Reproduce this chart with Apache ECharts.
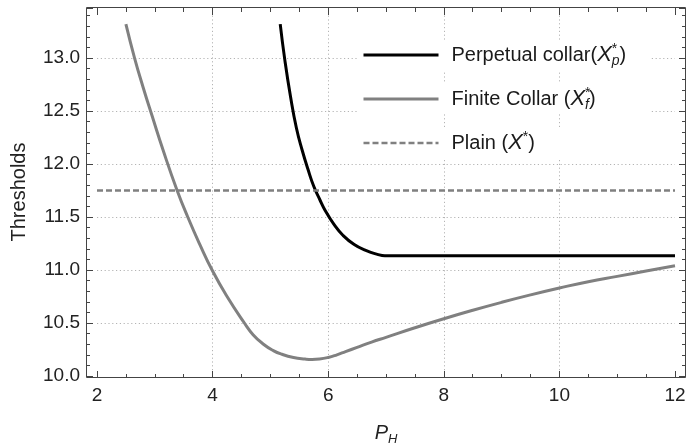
<!DOCTYPE html>
<html><head><meta charset="utf-8">
<script src="https://cdn.jsdelivr.net/npm/echarts@6/dist/echarts.min.js"></script>
<style>html,body{margin:0;padding:0;background:#fff}#c{width:689px;height:443px}</style>
</head><body><div id="c"></div>
<script>
// ---- data ----
const finiteX = [2.5, 2.65, 2.8, 2.95, 3.15, 3.38, 3.57, 3.78, 4.0, 4.25, 4.55, 4.7, 4.88, 5.05, 5.2, 5.4, 5.6, 5.72, 5.85, 6.0, 6.15, 6.3, 6.5, 6.75, 7.0, 7.5, 8.0, 8.5, 9.0, 9.5, 10.0, 10.5, 11.0, 11.5, 12.0];
const finiteY = [13.32, 13.0, 12.72, 12.46, 12.12, 11.76, 11.5, 11.24, 10.99, 10.75, 10.5, 10.39, 10.30, 10.24, 10.205, 10.175, 10.16, 10.156, 10.16, 10.175, 10.20, 10.23, 10.27, 10.32, 10.365, 10.455, 10.54, 10.62, 10.695, 10.765, 10.83, 10.89, 10.94, 10.99, 11.04];
const perpX = [5.17, 5.25, 5.35, 5.45, 5.55, 5.65, 5.75, 5.85, 5.95, 6.1, 6.25, 6.45, 6.65, 6.85, 6.98, 7.5, 8.0, 9.0, 10.0, 11.0, 12.0];
const perpY = [13.32, 12.98, 12.63, 12.34, 12.13, 11.95, 11.79, 11.67, 11.56, 11.43, 11.33, 11.24, 11.185, 11.148, 11.135, 11.135, 11.135, 11.135, 11.135, 11.135, 11.135];
const plainX = [2, 12];
const plainY = [11.75, 11.75];
const xTickValues = [2, 4, 6, 8, 10, 12];
const yTickValues = [10.0, 10.5, 11.0, 11.5, 12.0, 12.5, 13.0];
const seriesNames = ['Perpetual collar', 'Finite Collar', 'Plain'];
const legendTexts = [
  'Perpetual collar({x|X}{sup|*}{sub|p})',
  'Finite Collar ({x|X}{sup|*}{sub|f})',
  'Plain ({x|X}{sup2|*})'
];
const xName = '{i|P}{s|H}';
const yName = 'Thresholds';

function pairs(xs, ys) { return xs.map((x, i) => [x, ys[i]]); }

const FONT = '"Liberation Sans", Arial, Helvetica, sans-serif';
const TICK = '#444';
const LABEL = '#222';
const GRIDLINE = { color: '#b4b4b4', type: [1.2, 2.6], width: 1 };

function xAxisCfg(position, withLabels, offset) {
  return {
    type: 'value', position: position, offset: offset,
    min: xTickValues[0], max: xTickValues[xTickValues.length - 1], interval: xTickValues[1] - xTickValues[0],
    axisLine: { show: false },
    axisTick: { show: true, inside: true, length: 7, lineStyle: { color: TICK, width: 1 } },
    minorTick: { show: true, splitNumber: 4, length: 4, lineStyle: { color: TICK, width: 1 } },
    axisLabel: { show: withLabels, fontSize: 19, color: LABEL, fontFamily: FONT, margin: 8,
                 formatter: v => String(v) },
    splitLine: { show: withLabels, showMinLine: false, showMaxLine: false, lineStyle: GRIDLINE },
    name: withLabels ? xName : '', nameLocation: 'middle', nameGap: 42,
    nameTextStyle: { color: LABEL, fontFamily: FONT, rich: {
      i: { fontStyle: 'italic', fontSize: 20, lineHeight: 26, fontFamily: FONT, color: LABEL },
      s: { fontStyle: 'italic', fontSize: 13, lineHeight: 14, verticalAlign: 'bottom', fontFamily: FONT, color: LABEL }
    } }
  };
}
function yAxisCfg(position, withLabels, offset) {
  return {
    type: 'value', position: position, offset: offset,
    min: yTickValues[0], max: 13.472, interval: yTickValues[1] - yTickValues[0],
    axisLine: { show: false },
    axisTick: { show: true, inside: true, length: 7, lineStyle: { color: TICK, width: 1 } },
    minorTick: { show: true, splitNumber: 5, length: 4, lineStyle: { color: TICK, width: 1 } },
    axisLabel: { show: withLabels, fontSize: 19, color: LABEL, fontFamily: FONT, margin: 6,
                 showMaxLabel: false, formatter: v => v.toFixed(1) },
    splitLine: { show: withLabels, showMinLine: false, showMaxLine: false, lineStyle: GRIDLINE },
    name: withLabels ? yName : '', nameLocation: 'middle', nameGap: 57,
    nameTextStyle: { color: LABEL, fontFamily: FONT, fontSize: 20 }
  };
}

const legendHidden = { color: 'rgba(0,0,0,0)', borderWidth: 0, opacity: 0 };

const chart = echarts.init(document.getElementById('c'), null, { renderer: 'canvas' });
chart.setOption({
  animation: false,
  backgroundColor: '#fff',
  grid: { left: 97, right: 14, top: 8, bottom: 67, outerBoundsMode: 'none', containLabel: false },
  xAxis: [xAxisCfg('bottom', true, 2), xAxisCfg('top', false, 0)],
  yAxis: [yAxisCfg('left', true, 11), yAxisCfg('right', false, 11)],
  legend: {
    orient: 'vertical', left: 362, top: 42, padding: 0,
    itemWidth: 75, itemHeight: 26, itemGap: 18,
    itemStyle: legendHidden,
    data: [
      { name: seriesNames[0], itemStyle: legendHidden, lineStyle: { width: 3, color: '#000' } },
      { name: seriesNames[1], itemStyle: legendHidden, lineStyle: { width: 3, color: '#808080' } },
      { name: seriesNames[2], itemStyle: legendHidden, lineStyle: { width: 2.5, color: '#808080', type: [6, 3] } }
    ],
    formatter: name => legendTexts[seriesNames.indexOf(name)],
    textStyle: {
      fontSize: 20, fontFamily: FONT, color: '#1a1a1a', lineHeight: 26, padding: [0, 0, 0, 8],
      rich: {
        x: { fontStyle: 'italic', fontSize: 22, lineHeight: 26, fontFamily: FONT, color: '#1a1a1a' },
        sup: { fontSize: 14, lineHeight: 14, verticalAlign: 'top', width: 0, fontFamily: FONT, color: '#1a1a1a' },
        sup2: { fontSize: 14, lineHeight: 14, verticalAlign: 'top', fontFamily: FONT, color: '#1a1a1a' },
        sub: { fontStyle: 'italic', fontSize: 14, lineHeight: 14, verticalAlign: 'bottom', fontFamily: FONT, color: '#1a1a1a' }
      }
    }
  },
  graphic: [
    { type: 'rect', z: 1, silent: true, shape: { x: 358, y: 40, width: 292, height: 30 }, style: { fill: '#fff' } },
    { type: 'rect', z: 1, silent: true, shape: { x: 358, y: 84, width: 292, height: 30 }, style: { fill: '#fff' } },
    { type: 'rect', z: 1, silent: true, shape: { x: 358, y: 128, width: 292, height: 30 }, style: { fill: '#fff' } },
    { type: 'rect', z: 100, silent: true, shape: { x: 86.5, y: 7.5, width: 599, height: 370 }, style: { fill: 'none', stroke: TICK, lineWidth: 1 } }
  ],
  series: [
    { name: seriesNames[0], type: 'line', data: pairs(perpX, perpY), symbol: 'none', smooth: 0.5,
      lineStyle: { color: '#000', width: 3 }, itemStyle: { color: '#000' }, z: 3 },
    { name: seriesNames[1], type: 'line', data: pairs(finiteX, finiteY), symbol: 'none', smooth: 0.5,
      lineStyle: { color: '#808080', width: 3 }, itemStyle: { color: '#808080' }, z: 3 },
    { name: seriesNames[2], type: 'line', data: pairs(plainX, plainY), symbol: 'none',
      lineStyle: { color: '#808080', width: 2.5, type: [6, 3] }, itemStyle: { color: '#808080' }, z: 3 }
  ]
});
</script></body></html>
